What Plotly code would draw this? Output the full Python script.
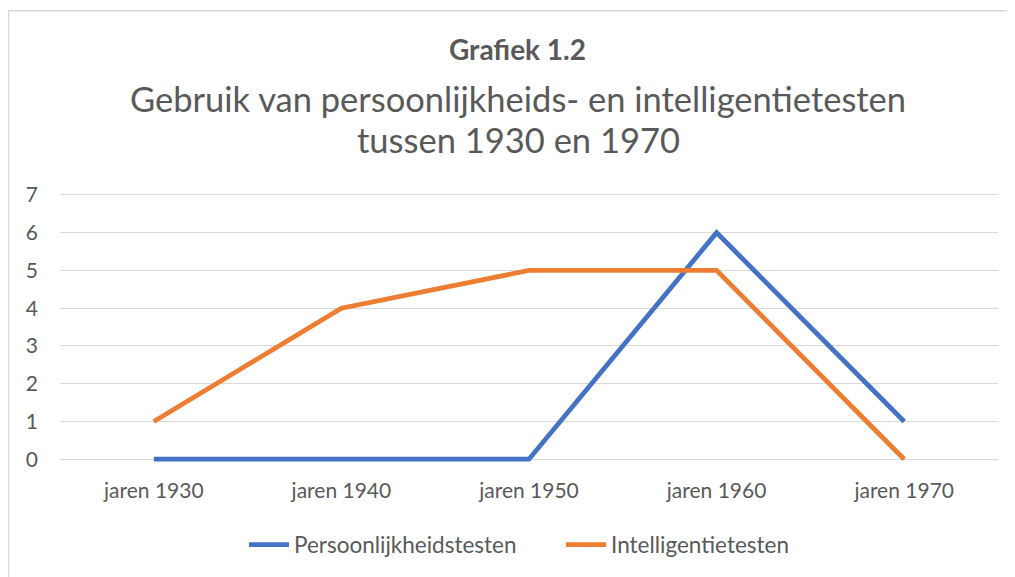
import plotly.graph_objects as go

categories = ["jaren 1930", "jaren 1940", "jaren 1950", "jaren 1960", "jaren 1970"]
persoonlijkheid = [0, 0, 0, 6, 1]
intelligentie = [1, 4, 5, 5, 0]
y_ticks = [0, 1, 2, 3, 4, 5, 6, 7]

FONT = "Lato, 'Open Sans', sans-serif"
GREY = "#595959"
OFF = 8  # page body margin

fig = go.Figure()
fig.add_trace(go.Scatter(x=categories, y=persoonlijkheid, mode="lines",
                         name="Persoonlijkheidstesten",
                         line=dict(color="#4472C4", width=4.8)))
fig.add_trace(go.Scatter(x=categories, y=intelligentie, mode="lines",
                         name="Intelligentietesten",
                         line=dict(color="#ED7D31", width=4.8)))

W, H = 1007, 569
L, R, T, B = 52, 17, 185, 113
pw = W - L - R
ph = H - T - B

def sx(x):
    return (x - OFF - L) / pw

def sy(y):
    return (H - B - (y - OFF)) / ph

fig.update_layout(
    width=W, height=H,
    margin=dict(l=L, r=R, t=T, b=B),
    paper_bgcolor="white", plot_bgcolor="white",
    font=dict(family=FONT, color=GREY, size=21),
    showlegend=True,
    legend=dict(orientation="h", x=sx(244), xanchor="left", y=sy(545), yanchor="middle",
                font=dict(size=22.5, color=GREY), itemwidth=40,
                entrywidth=262, entrywidthmode="pixels",
                traceorder="normal"),
    xaxis=dict(range=[-0.5, 4.5], showgrid=False, zeroline=False, showline=False,
               ticks="", tickfont=dict(size=21, color=GREY), ticklabelstandoff=13,
               fixedrange=True),
    yaxis=dict(range=[-0.1, 7.05], tickvals=y_ticks, showgrid=True, gridcolor="#D9D9D9",
               gridwidth=1, zeroline=False, showline=False, ticks="",
               tickfont=dict(size=21, color=GREY), ticklabelstandoff=21),
    shapes=[
        dict(type="line", xref="paper", yref="paper", x0=sx(8), x1=sx(1030), y0=sy(10), y1=sy(10),
             line=dict(color="#D9D9D9", width=1.5)),
        dict(type="line", xref="paper", yref="paper", x0=sx(8.5), x1=sx(8.5), y0=sy(10), y1=sy(600),
             line=dict(color="#D9D9D9", width=1.5)),
    ],
    annotations=[
        dict(text="<b>Grafiek 1.2</b>", xref="paper", yref="paper", x=sx(517), y=sy(48),
             xanchor="center", yanchor="middle", showarrow=False,
             font=dict(size=28, color=GREY, family=FONT)),
        dict(text="Gebruik van persoonlijkheids- en intelligentietesten", xref="paper", yref="paper",
             x=sx(518), y=sy(98), xanchor="center", yanchor="middle", showarrow=False,
             font=dict(size=34.5, color=GREY, family=FONT)),
        dict(text="tussen 1930 en 1970", xref="paper", yref="paper",
             x=sx(518), y=sy(139), xanchor="center", yanchor="middle", showarrow=False,
             font=dict(size=34.5, color=GREY, family=FONT)),
    ],
)

fig.write_html("out.html")
